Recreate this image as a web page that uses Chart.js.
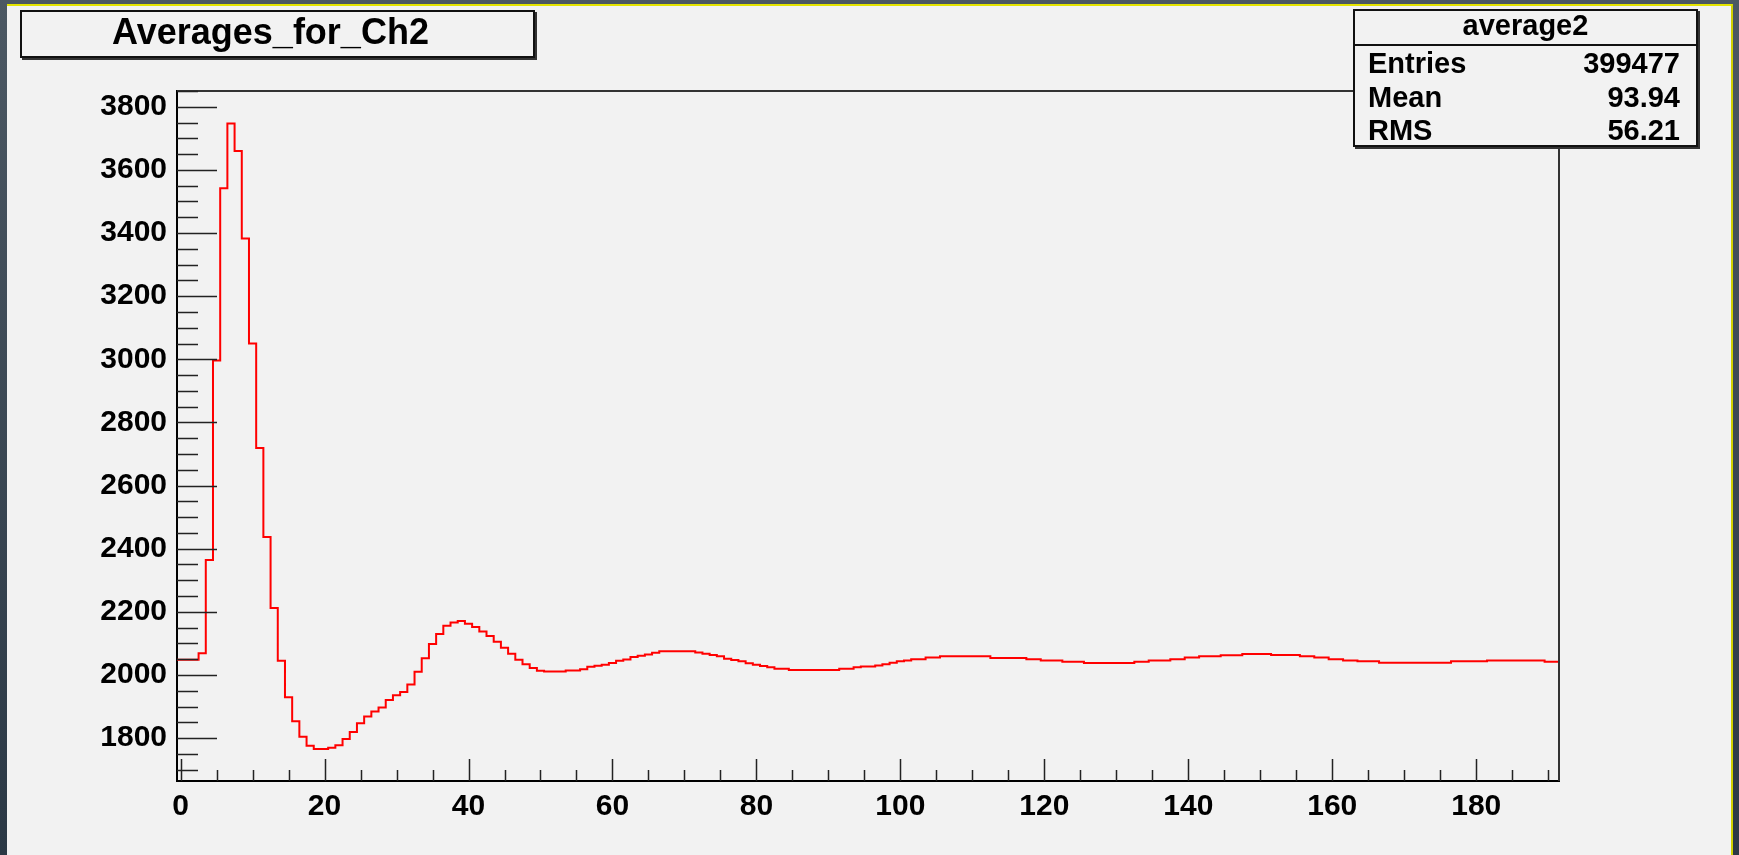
<!DOCTYPE html>
<html>
<head>
<meta charset="utf-8">
<script src="https://cdn.jsdelivr.net/npm/chart.js@4.4.0/dist/chart.umd.min.js"></script>
<style>
  html, body { margin: 0; padding: 0; }
  body {
    width: 1739px; height: 855px; overflow: hidden; position: relative;
    background: linear-gradient(#4c5863, #2b3845);
    font-family: "Liberation Sans", Arial, Helvetica, sans-serif;
  }
  #pad {
    position: absolute; left: 7px; top: 4px; width: 1724px; height: 851px;
    background: #f2f2f2; border-top: 2px solid #e4e400; border-right: 2px solid #d0d000;
  }
  #c { position: absolute; left: 0; top: 0; }
  .box {
    position: absolute; box-sizing: border-box; background: #f2f2f2;
    border: 2px solid #111; box-shadow: 2px 2px 0 #333; color: #000; font-weight: bold;
  }
  #title { left: 20px; top: 10px; width: 515px; height: 48px; }
  #title div { position: absolute; left: 0; right: 14px; top: 0.5px; text-align: center; font-size: 36px; line-height: 37px; }
  #stats { left: 1353px; top: 9px; width: 345px; height: 138px; font-size: 29px; }
  #stats .head { position: absolute; left: 0; right: 0; top: 0; height: 33px; border-bottom: 2px solid #111; }
  #stats .row { position: absolute; left: 13px; right: 16px; line-height: 29px; height: 29px; }
  #stats .row span:last-child { float: right; }
  #stats .head div { text-align: center; line-height: 29px; position: absolute; left: 0; right: 0; top: 0; }
</style>
</head>
<body>
<div id="pad"></div>
<canvas id="c" width="1739" height="855"></canvas>
<div id="title" class="box"><div>Averages_for_Ch2</div></div>
<div id="stats" class="box"></div>
<script>
// histogram "average2", one value per bin (bins of width 1 centred on 0..191)
const counts = [
  2048,2048,2048,2048,2069,2364,2996,3542,3747,3660,
  3383,3050,2719,2437,2212,2045,1929,1853,1804,1776,
  1765,1765,1769,1777,1797,1819,1847,1868,1884,1897,
  1921,1936,1946,1970,2010,2053,2098,2130,2156,2166,
  2171,2162,2152,2138,2123,2105,2086,2067,2048,2034,
  2022,2013,2011,2011,2011,2014,2014,2018,2026,2029,
  2032,2038,2045,2049,2057,2061,2065,2070,2075,2075,
  2075,2075,2075,2071,2067,2063,2059,2051,2047,2043,
  2037,2032,2028,2024,2020,2020,2016,2016,2016,2016,
  2016,2016,2016,2020,2020,2024,2027,2027,2030,2034,
  2039,2043,2046,2050,2050,2055,2055,2059,2059,2059,
  2059,2059,2059,2059,2054,2054,2054,2054,2054,2050,
  2050,2046,2046,2046,2042,2042,2042,2038,2038,2038,
  2038,2038,2038,2038,2042,2042,2046,2046,2046,2050,
  2050,2055,2055,2059,2059,2059,2062,2062,2062,2066,
  2066,2066,2066,2063,2063,2063,2063,2059,2059,2055,
  2055,2050,2050,2046,2046,2043,2043,2043,2039,2039,
  2039,2039,2039,2039,2039,2039,2039,2039,2043,2043,
  2043,2043,2043,2046,2046,2046,2046,2046,2046,2046,
  2046,2042
];
const xTickValues = [0, 20, 40, 60, 80, 100, 120, 140, 160, 180];
const yTickValues = [1800, 2000, 2200, 2400, 2600, 2800, 3000, 3200, 3400, 3600, 3800];
const histName = 'average2';
const statLabels = ['Entries', 'Mean', 'RMS'];
const statValues = ['399477', '93.94', '56.21'];

// stats box
const stats = document.getElementById('stats');
let html = '<div class="head"><div style="top:-0.5px">' + histName + '</div></div>';
const rowTops = [37.5, 71.5, 105];
statLabels.forEach((l, i) => {
  html += '<div class="row" style="top:' + rowTops[i] + 'px"><span>' + l + '</span><span>' + statValues[i] + '</span></div>';
});
stats.innerHTML = html;

// step outline: each bin drawn from its low edge, closed at the last high edge
const points = counts.map((v, i) => ({x: i - 0.5, y: v}));
points.push({x: counts.length - 0.5, y: counts[counts.length - 1]});

const tickFont = {family: '"Liberation Sans", Arial, sans-serif', size: 30, weight: 'bold'};

// ROOT style inward ticks + frame
const frameTicks = {
  id: 'frameTicks',
  afterDraw(chart) {
    const ctx = chart.ctx, a = chart.chartArea;
    const xs = chart.scales.x, ys = chart.scales.y;
    ctx.save();
    ctx.strokeStyle = '#333';
    ctx.lineWidth = 2;
    ctx.beginPath();
    ctx.moveTo(a.left, a.top); ctx.lineTo(a.right, a.top); ctx.lineTo(a.right, a.bottom);
    ctx.stroke();
    ctx.strokeStyle = '#222';
    ctx.lineWidth = 1.5;
    ctx.beginPath();
    for (let v = 1700; v <= ys.max; v += 50) {
      const y = Math.round(ys.getPixelForValue(v)) + 0.5;
      const len = v % 200 === 0 ? 40 : 21;
      ctx.moveTo(a.left, y); ctx.lineTo(a.left + len, y);
    }
    for (let v = 0; v <= xs.max; v += 5) {
      const x = Math.round(xs.getPixelForValue(v)) + 0.5;
      const len = v % 20 === 0 ? 22 : 11;
      ctx.moveTo(x, a.bottom); ctx.lineTo(x, a.bottom - len);
    }
    ctx.stroke();
    ctx.restore();
  }
};

new Chart(document.getElementById('c'), {
  type: 'line',
  data: {
    datasets: [{
      data: points,
      stepped: 'after',
      borderColor: '#ff0000',
      borderWidth: 2,
      pointRadius: 0,
      fill: false
    }]
  },
  options: {
    responsive: false,
    animation: false,
    devicePixelRatio: 1,
    layout: {padding: {left: 0, top: 91, right: 180, bottom: 0}},
    scales: {
      x: {
        type: 'linear',
        min: -0.5,
        max: 191.5,
        afterFit: s => { s.height = 74; },
        afterBuildTicks: s => { s.ticks = xTickValues.map(v => ({value: v})); },
        grid: {display: false, drawTicks: false},
        border: {display: true, color: '#000', width: 2},
        ticks: {font: tickFont, color: '#000', padding: 8, maxRotation: 0, autoSkip: false, callback: v => String(v)}
      },
      y: {
        min: 1664,
        max: 3850,
        afterFit: s => { s.width = 177; },
        afterBuildTicks: s => { s.ticks = yTickValues.map(v => ({value: v})); },
        grid: {display: false, drawTicks: false},
        border: {display: true, color: '#000', width: 2},
        ticks: {font: tickFont, color: '#000', padding: 10, autoSkip: false, callback: v => String(v)}
      }
    },
    plugins: {legend: {display: false}, tooltip: {enabled: false}}
  },
  plugins: [frameTicks]
});
</script>
</body>
</html>
